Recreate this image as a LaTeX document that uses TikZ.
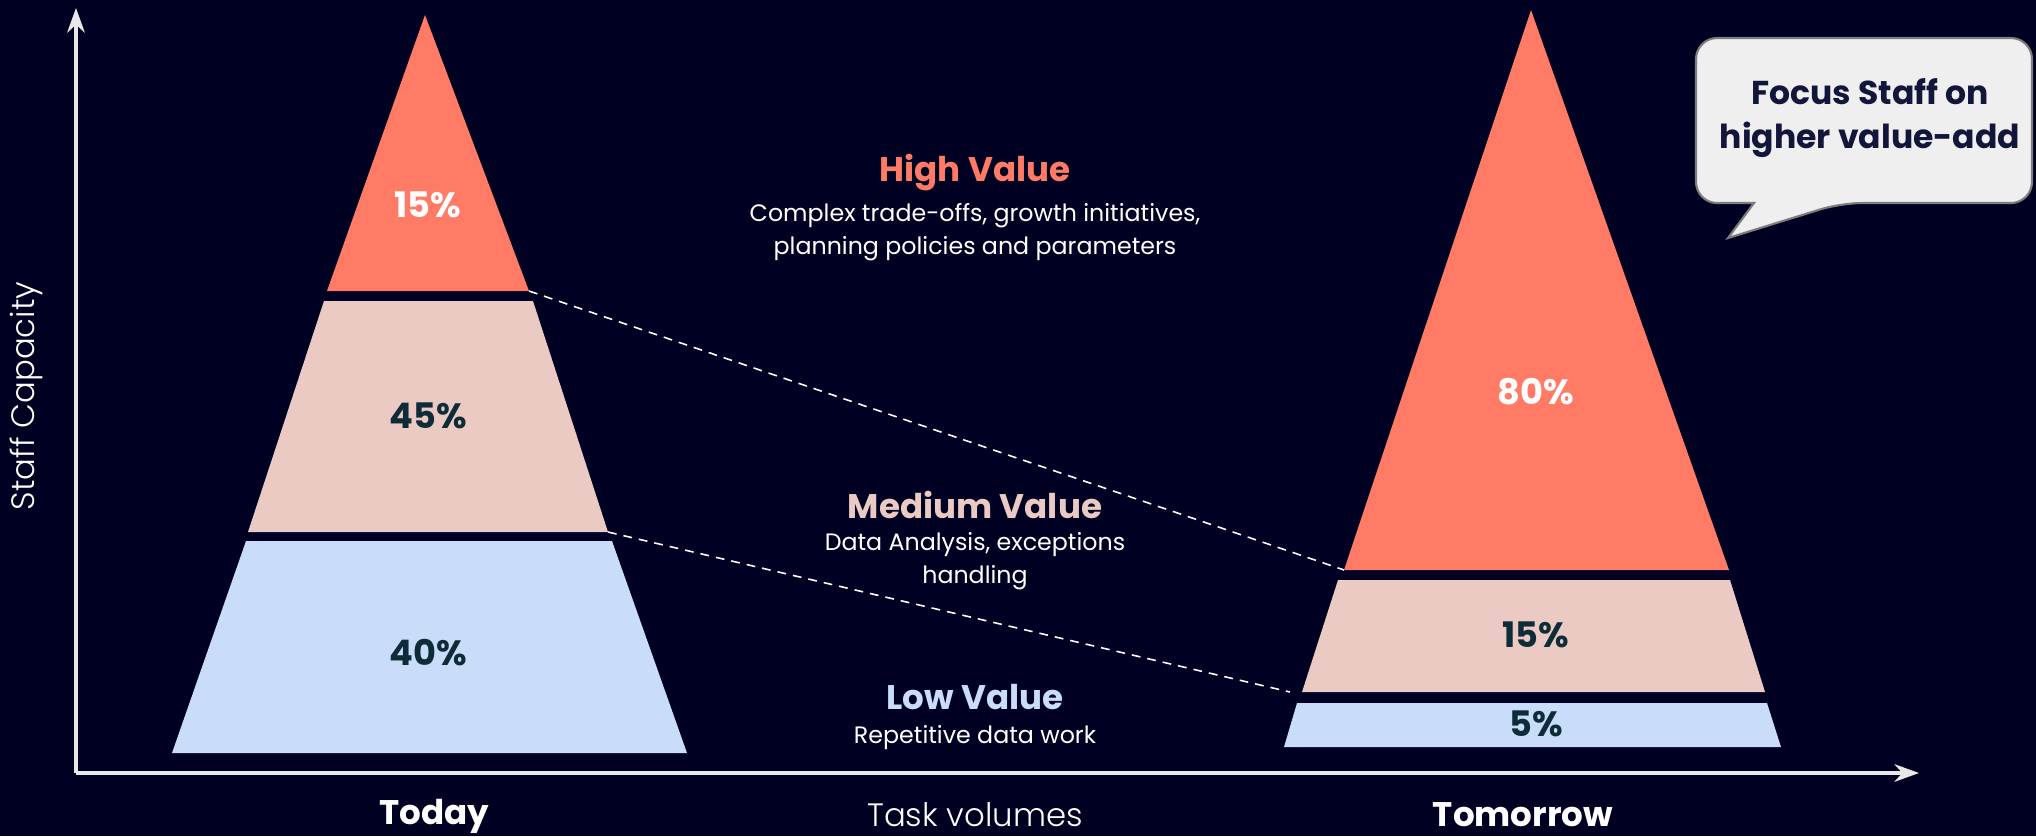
\documentclass[tikz,border=0pt]{standalone}
\usepackage{fontspec}
\setmainfont{Poppins}
\newfontfamily\lightfont{Poppins Light}
\usetikzlibrary{positioning, arrows.meta}
\definecolor{bgnavy}{RGB}{0,0,35}
\definecolor{hicoral}{RGB}{255,123,101}
\definecolor{midpink}{RGB}{236,202,196}
\definecolor{lowblue}{RGB}{201,220,250}
\definecolor{pctdark}{RGB}{14,44,56}
\definecolor{axisgray}{RGB}{232,232,232}
\definecolor{bubblegray}{RGB}{239,239,239}
\definecolor{bubbleedge}{RGB}{125,125,125}
\definecolor{bubbletext}{RGB}{18,22,58}
\tikzset{
    >={Stealth[length=7pt, width=5pt]}, % axis arrowheads
    every node/.style={inner sep=0pt, outer sep=0pt},
    pct/.style={font=\bfseries\fontsize{10}{12}\selectfont, text=pctdark}, % layer shares
    title/.style={font=\bfseries\fontsize{9.7}{12}\selectfont}, % value titles
    subtext/.style={font=\fontsize{6.75}{9.3}\selectfont, text=white, align=center},
    axislabel/.style={font=\lightfont\fontsize{9.2}{11}\selectfont, text=white},
    when/.style={font=\bfseries\fontsize{9.7}{12}\selectfont, text=white},
    link/.style={white, line width=0.45pt, dash pattern=on 2.5pt off 2pt},
}

\begin{document}
\begin{tikzpicture}[
    x=0.01cm, y=-0.01cm,
    bubble/.style={fill=bubblegray, draw=bubbleedge, line width=0.6pt},
]

    % --- Background ---
    \fill[bgnavy] (0,0) rectangle (2036,836);
    \useasboundingbox (0,0) rectangle (2036,836);

    % --- Axes ---
    \coordinate (origin) at (76,773);
    \coordinate (ytip) at (76,8);
    \coordinate (xtip) at (1919,773);
    \draw[->, axisgray, line width=1pt] (origin) -- (ytip);
    \draw[->, axisgray, line width=1pt] (origin) -- (xtip);
    \node[axislabel, rotate=90] (capacity) at (26,396) {Staff Capacity};
    \node[axislabel] (volumes) at (975,815) {Task volumes};

    % --- Corners ---
    \coordinate (t-apex) at (425,15);
    \coordinate (t-hl) at (327,291);  \coordinate (t-hr) at (529,291);
    \coordinate (t-mtl) at (324,301); \coordinate (t-mtr) at (533,301);
    \coordinate (t-mbl) at (248,532); \coordinate (t-mbr) at (608,532);
    \coordinate (t-ltl) at (246,541); \coordinate (t-ltr) at (612,541);
    \coordinate (t-lbl) at (172,753); \coordinate (t-lbr) at (687,753);

    \coordinate (w-apex) at (1531,10);
    \coordinate (w-hl) at (1344,570); \coordinate (w-hr) at (1729,570);
    \coordinate (w-mtl) at (1338,580); \coordinate (w-mtr) at (1730,580);
    \coordinate (w-mbl) at (1302,692); \coordinate (w-mbr) at (1765,692);
    \coordinate (w-ltl) at (1297,703); \coordinate (w-ltr) at (1767,703);
    \coordinate (w-lbl) at (1284,747); \coordinate (w-lbr) at (1781,747);

    % --- Links ---
    \draw[link] (t-hr) -- (w-hl);
    \draw[link] (t-mbr) -- (1290,692);

    % --- Today ---
    \fill[hicoral] (t-apex) -- (t-hr) -- (t-hl) -- cycle;
    \fill[midpink] (t-mtl) -- (t-mtr) -- (t-mbr) -- (t-mbl) -- cycle;
    \fill[lowblue] (t-ltl) -- (t-ltr) -- (t-lbr) -- (t-lbl) -- cycle;
    \node[pct, text=white] (t-high) at (428,205) {15\%};
    \node[pct] (t-mid) at (428,416) {45\%};
    \node[pct] (t-low) at (428,653) {40\%};
    \node[when] (today) at (434,816) {Today};

    % --- Tomorrow ---
    \fill[hicoral] (w-apex) -- (w-hr) -- (w-hl) -- cycle;
    \fill[midpink] (w-mtl) -- (w-mtr) -- (w-mbr) -- (w-mbl) -- cycle;
    \fill[lowblue] (w-ltl) -- (w-ltr) -- (w-lbr) -- (w-lbl) -- cycle;
    \node[pct, text=white] (w-high) at (1536,392) {80\%};
    \node[pct] (w-mid) at (1536,635) {15\%};
    \node[pct] (w-low) at (1536,724) {5\%};
    \node[when] (tomorrow) at (1523,815) {Tomorrow};

    % --- Value descriptions ---
    \node[title, text=hicoral] (high) at (975,173) {High Value};
    \node[subtext, below=3.5pt of high] (high-txt)
        {Complex trade-offs, growth initiatives,\\planning policies and parameters};
    \node[title, text=midpink] (medium) at (975,505) {Medium Value};
    \node[subtext, below=4pt of medium] (medium-txt)
        {Data Analysis, exceptions\\handling};
    \node[title, text=lowblue] (low) at (975,697) {Low Value};
    \node[subtext, below=4.5pt of low] (low-txt) {Repetitive data work};

    % --- Callout ---
    \draw[bubble] (1754,203) [rounded corners=6pt] -- (1696,203) -- (1696,38)
        -- (2032,38) -- (2032,203) -- (1841,203) [sharp corners] -- (1728,238) -- cycle;
    \node[title, text=bubbletext, align=center, font=\bfseries\fontsize{9.4}{12.5}\selectfont]
        (focus) at (1870,118) {Focus Staff on\\higher value-add};

\end{tikzpicture}
\end{document}
